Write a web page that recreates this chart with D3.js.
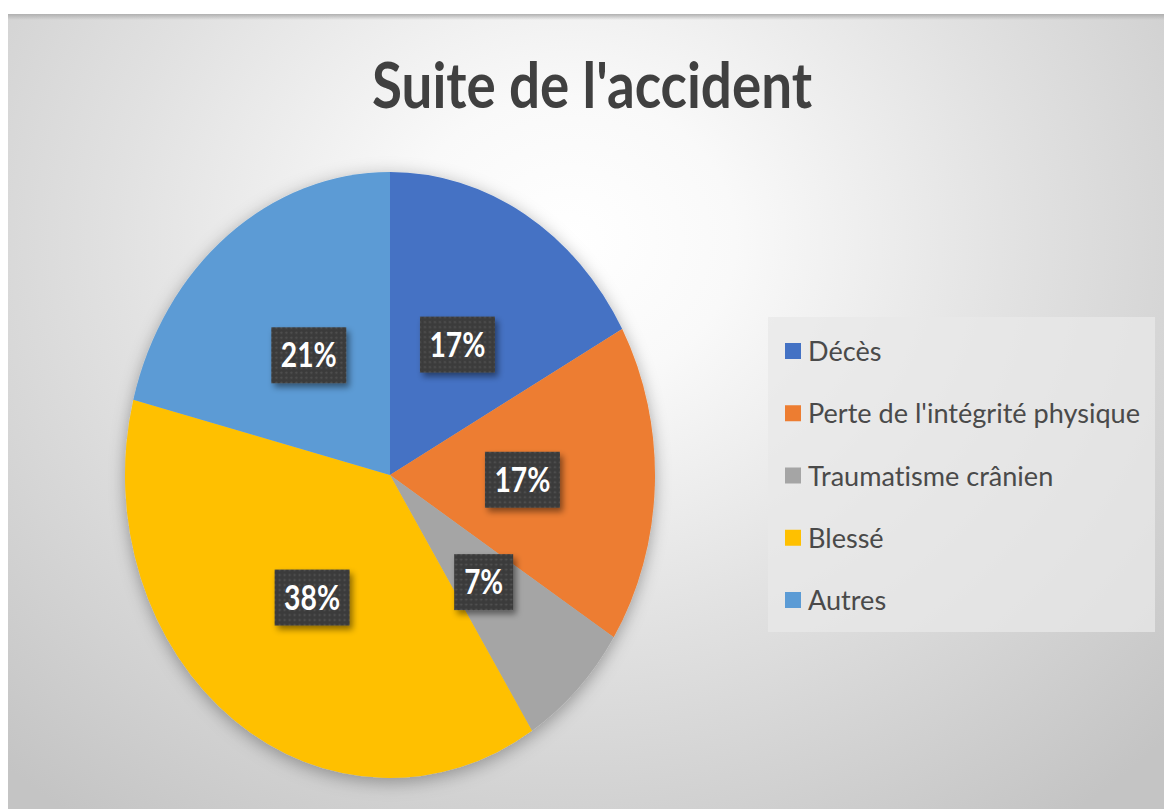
<!DOCTYPE html>
<html>
<head>
<meta charset="utf-8">
<script src="https://cdn.jsdelivr.net/npm/d3@7"></script>
<style>
  html, body { margin: 0; padding: 0; background: #ffffff; }
  svg { display: block; }
  text { font-variant-ligatures: none; font-feature-settings: "liga" 0; }
</style>
</head>
<body>
<svg id="chart" width="1164" height="809"></svg>
<script>
// ---- data ----
const title = "Suite de l'accident";
const categories = ["Décès", "Perte de l'intégrité physique", "Traumatisme crânien", "Blessé", "Autres"];
const values = [17, 17, 7, 38, 21];
const colors = ["#4472C4", "#ED7D31", "#A5A5A5", "#FFC000", "#5B9BD5"];

// ---- layout ----
const W = 1164, H = 809;
const svg = d3.select("#chart");
const defs = svg.append("defs");

// background radial gradient
const bg = defs.append("radialGradient").attr("id", "bgGrad")
  .attr("gradientUnits", "userSpaceOnUse")
  .attr("cx", 570).attr("cy", 240).attr("r", 720)
  .attr("gradientTransform", "translate(570,240) scale(1.15,1) translate(-570,-240)");
bg.append("stop").attr("offset", "0").attr("stop-color", "#ffffff");
bg.append("stop").attr("offset", "0.2").attr("stop-color", "#f9f9f9");
bg.append("stop").attr("offset", "0.55").attr("stop-color", "#e1e1e1");
bg.append("stop").attr("offset", "1").attr("stop-color", "#c4c4c4");

const topShade = defs.append("linearGradient").attr("id", "topShade")
  .attr("x1", 0).attr("y1", 0).attr("x2", 0).attr("y2", 1);
topShade.append("stop").attr("offset", "0").attr("stop-color", "#b0b0b0").attr("stop-opacity", 1);
topShade.append("stop").attr("offset", "1").attr("stop-color", "#b0b0b0").attr("stop-opacity", 0);

// shadows
const pieShadow = defs.append("filter").attr("id", "pieShadow")
  .attr("x", "-20%").attr("y", "-20%").attr("width", "140%").attr("height", "140%");
pieShadow.append("feDropShadow").attr("dx", 0).attr("dy", 4).attr("stdDeviation", 9)
  .attr("flood-color", "#000").attr("flood-opacity", 0.33);

const boxShadow = defs.append("filter").attr("id", "boxShadow")
  .attr("x", "-30%").attr("y", "-30%").attr("width", "170%").attr("height", "170%");
boxShadow.append("feDropShadow").attr("dx", 3).attr("dy", 4).attr("stdDeviation", 3)
  .attr("flood-color", "#000").attr("flood-opacity", 0.45);

// dotted texture for label boxes
const pat = defs.append("pattern").attr("id", "dots")
  .attr("patternUnits", "userSpaceOnUse").attr("width", 5).attr("height", 5);
pat.append("rect").attr("width", 5).attr("height", 5).attr("fill", "#3b3b3b");
pat.append("circle").attr("cx", 2.5).attr("cy", 2.5).attr("r", 1.1).attr("fill", "#555555");

// chart area
const area = { x: 8, y: 14, w: W - 8, h: H - 14 };
svg.append("rect").attr("x", area.x).attr("y", area.y).attr("width", area.w).attr("height", area.h)
  .attr("fill", "url(#bgGrad)");
svg.append("rect").attr("x", area.x).attr("y", area.y).attr("width", area.w).attr("height", 6)
  .attr("fill", "url(#topShade)");

// title
svg.append("text")
  .attr("x", 592).attr("y", 108)
  .attr("text-anchor", "middle")
  .attr("font-family", "Lato, 'Open Sans', sans-serif")
  .attr("font-weight", "bold")
  .attr("font-size", 64)
  .attr("fill", "#404040")
  .attr("textLength", 440).attr("lengthAdjust", "spacingAndGlyphs")
  .text(title);

// pie (elliptical, as in the reference)
const cx = 390, cy = 475, R = 300;
const sx = 265 / R, sy = 303 / R;
const pie = d3.pie().sort(null).value(d => d.v).startAngle(0).endAngle(2 * Math.PI);
const data = categories.map((c, i) => ({ c, v: values[i], color: colors[i] }));
const arcs = pie(data);
const arc = d3.arc().innerRadius(0).outerRadius(R);

const pieG = svg.append("g")
  .attr("transform", `translate(${cx},${cy}) scale(${sx},${sy})`)
  .attr("filter", "url(#pieShadow)");
pieG.selectAll("path").data(arcs).join("path")
  .attr("d", arc)
  .attr("fill", d => d.data.color);

// data labels
const total = d3.sum(values);
const labelG = svg.append("g");
arcs.forEach(a => {
  const c = arc.centroid(a);
  const x = cx + c[0] * sx, y = cy + c[1] * sy;
  const txt = Math.round(a.data.v / total * 100) + "%";
  const bw = txt.length > 2 ? 75 : 59, bh = 56;
  const g = labelG.append("g").attr("transform", `translate(${x},${y})`);
  g.append("rect").attr("x", -bw / 2).attr("y", -bh / 2).attr("width", bw).attr("height", bh)
    .attr("fill", "url(#dots)").attr("filter", "url(#boxShadow)");
  g.append("text")
    .attr("text-anchor", "middle")
    .attr("y", 12)
    .attr("font-family", "Lato, 'Open Sans', sans-serif")
    .attr("font-weight", "bold")
    .attr("font-size", 34)
    .attr("fill", "#ffffff")
    .attr("textLength", txt.length > 2 ? 56 : 39).attr("lengthAdjust", "spacingAndGlyphs")
    .text(txt);
});

// legend
const legend = svg.append("g");
legend.append("rect").attr("x", 768).attr("y", 317).attr("width", 387).attr("height", 315)
  .attr("fill", "#e8e8e8").attr("opacity", 0.75);
const legendY = d3.scalePoint().domain(categories).range([351, 600]);
const items = legend.selectAll("g.item").data(data).join("g").attr("class", "item")
  .attr("transform", d => `translate(785,${legendY(d.c)})`);
items.append("rect").attr("x", 0).attr("y", -8).attr("width", 16).attr("height", 16)
  .attr("fill", d => d.color);
const ltexts = items.append("text")
  .attr("x", 23).attr("y", 10)
  .attr("font-family", "Lato, 'Open Sans', sans-serif")
  .attr("font-size", 27)
  .attr("fill", "#4a4a4a")
  .text(d => d.c);
// horizontally condense legend text uniformly so the longest entry fits the box
let maxLen = 0;
ltexts.each(function () { maxLen = Math.max(maxLen, this.getComputedTextLength()); });
const k = 332 / maxLen;
ltexts.each(function () {
  d3.select(this).attr("textLength", this.getComputedTextLength() * k).attr("lengthAdjust", "spacingAndGlyphs");
});
</script>
</body>
</html>
